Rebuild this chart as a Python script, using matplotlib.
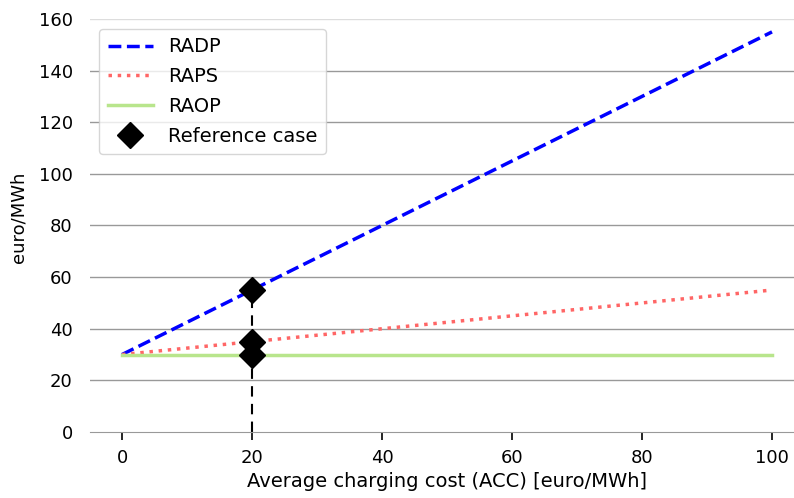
import matplotlib
matplotlib.use('Agg')
import matplotlib.pyplot as plt

acc = [0, 20, 40, 60, 80, 100]
radp = [30, 55, 80, 105, 130, 155]
raps = [30, 35, 40, 45, 50, 55]
raop = [30, 30, 30, 30, 30, 30]

ref_x = 20
ref_y = [55, 35, 30]

plt.rcParams['font.family'] = 'DejaVu Sans'

fig = plt.figure(figsize=(7.94, 4.98), dpi=100)
ax = fig.add_axes([89.5/794, 66/498, 715/794, 413/498])

for y in range(20, 161, 20):
    # top line sits on the edge and shows up fainter in the original
    c = '#dddddd' if y == 160 else '#999999'
    ax.axhline(y, color=c, lw=1.0, zorder=0)

ax.plot([ref_x, ref_x], [0, max(ref_y)], color='black', ls=(0, (5, 3.5)), lw=1.5, zorder=1)
ax.plot(acc, radp, color='blue', ls='--', lw=2.5, label='RADP', zorder=2)
ax.plot(acc, raps, color='#ff6666', ls=':', lw=2.5, label='RAPS', zorder=2)
ax.plot(acc, raop, color='#b8e58c', ls='-', lw=2.5, label='RAOP', zorder=2)
ax.plot([ref_x]*len(ref_y), ref_y, ls='none', marker='D', ms=13, color='black',
        label='Reference case', zorder=3)

ax.set_xlim(-5, 105)
ax.set_ylim(0, 160)
ax.set_xticks([0, 20, 40, 60, 80, 100])
ax.set_yticks(range(0, 161, 20))
ax.tick_params(axis='y', length=0, pad=12, labelsize=13)
ax.tick_params(axis='x', length=6, width=1.2, pad=6, labelsize=13)
for s in ax.spines.values():
    s.set_visible(False)
ax.spines['bottom'].set_visible(True)
ax.spines['bottom'].set_color('#999999')

ax.set_xlabel('Average charging cost (ACC) [euro/MWh]', fontsize=14)
ax.set_ylabel('euro/MWh', fontsize=13)
ax.yaxis.set_label_coords(-0.087, 0.52)
ax.legend(loc='upper left', handlelength=2.3, fontsize=14,
          borderpad=0.45, labelspacing=0.55)

fig.savefig('out.png', dpi=100)
